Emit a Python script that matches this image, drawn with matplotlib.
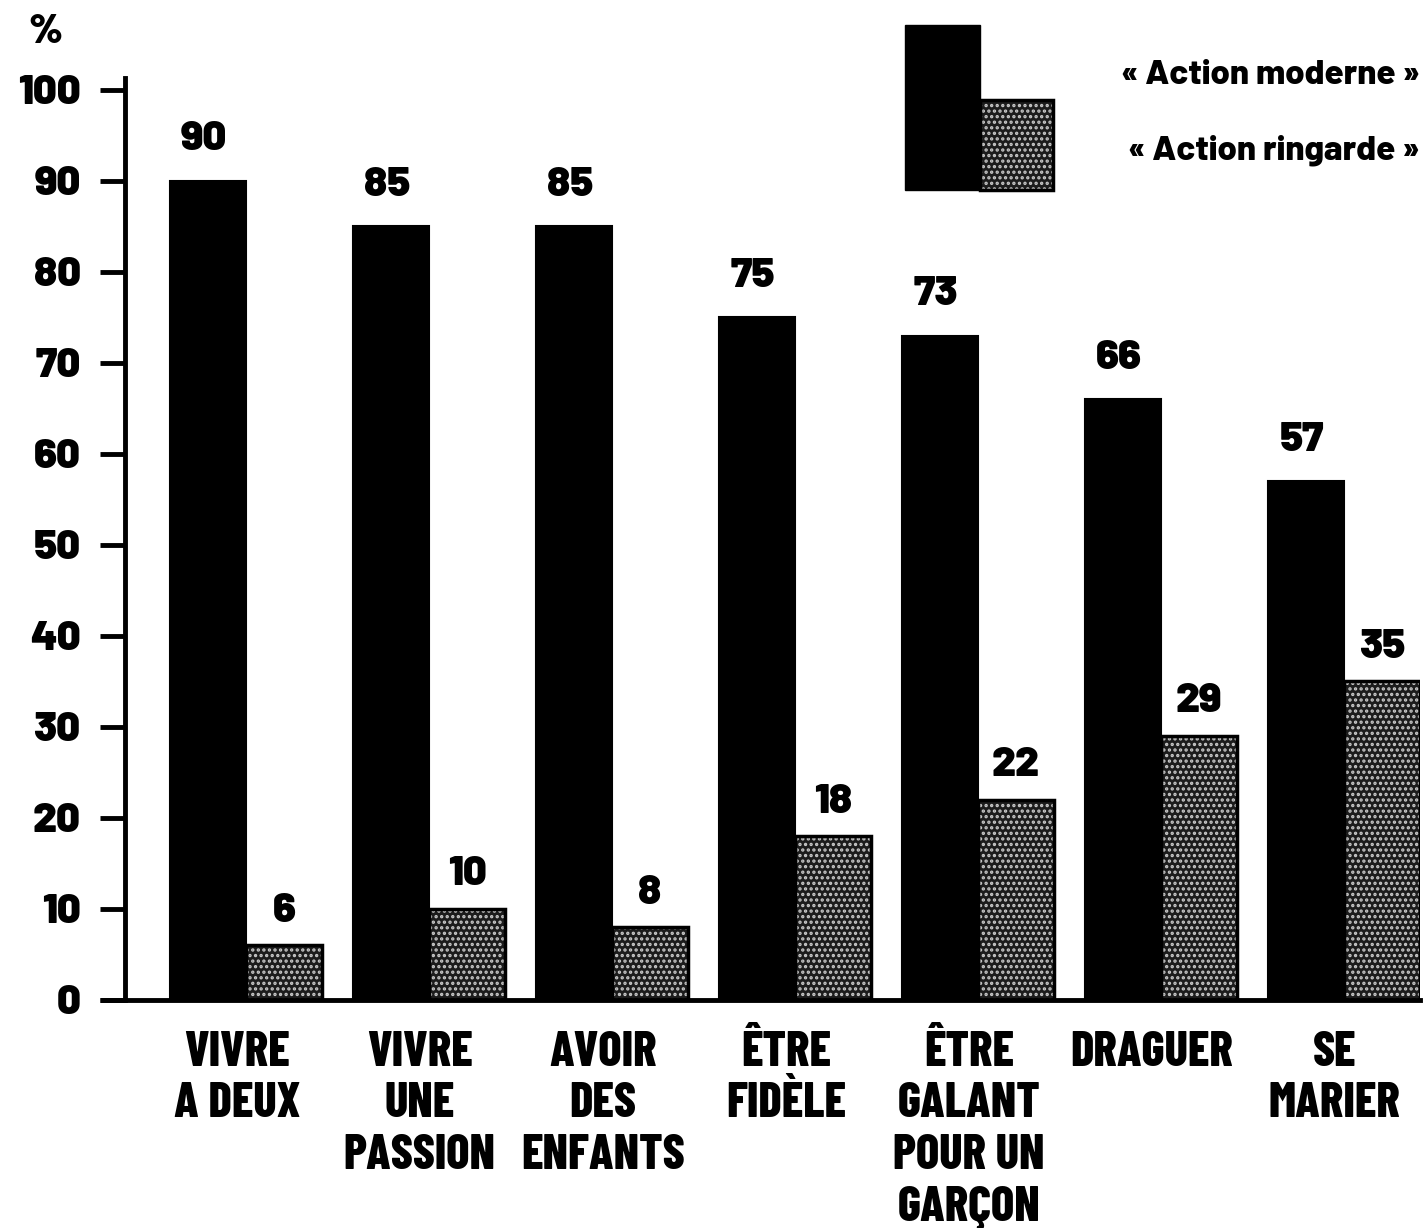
import matplotlib
matplotlib.use("Agg")
import matplotlib.pyplot as plt
from matplotlib.patches import Rectangle
import numpy as np

categories = ["VIVRE\nA DEUX", "VIVRE\nUNE\nPASSION", "AVOIR\nDES\nENFANTS",
              "ÊTRE\nFIDÈLE", "ÊTRE\nGALANT\nPOUR UN\nGARÇON", "DRAGUER", "SE\nMARIER"]
moderne = [90, 85, 85, 75, 73, 66, 57]
ringarde = [6, 10, 8, 18, 22, 29, 35]
yticks = [0, 10, 20, 30, 40, 50, 60, 70, 80, 90, 100]
series_names = ["« Action moderne »", "« Action ringarde »"]

CAT_FONT = ['Barlow Condensed', 'DejaVu Sans']
NUM_FONT = ['Barlow', 'Barlow Semi Condensed', 'DejaVu Sans']
plt.rcParams['font.family'] = CAT_FONT
plt.rcParams['hatch.linewidth'] = 1.6

W, H = 1427, 1228
fig = plt.figure(figsize=(W / 100, H / 100), dpi=100)
ax = fig.add_axes([125 / W, 1 - 1000 / H, (1420 - 125) / W, (1000 - 78) / H])

x = np.arange(len(categories))
bw = 0.415
off = 0.2077

ax.bar(x - off, moderne, width=bw, color='black', edgecolor='black', linewidth=1.5, zorder=2)
# halftone grey bars: dark base with light dots, black outline
ax.bar(x + off, ringarde, width=bw, color='#1c1c1c', edgecolor='#c8c8c8', hatch='...',
       linewidth=0, zorder=2)
ax.bar(x + off, ringarde, width=bw, fill=False, edgecolor='black', linewidth=2.5, zorder=3)

for xi, v in zip(x - off, moderne):
    ax.annotate(str(v), (xi, v), xytext=(-3, 17), textcoords='offset points',
                ha='center', va='bottom', fontsize=30, fontweight=900, family=NUM_FONT)
for xi, v in zip(x + off, ringarde):
    ax.annotate(str(v), (xi, v), xytext=(0, 12), textcoords='offset points',
                ha='center', va='bottom', fontsize=30, fontweight=900, family=NUM_FONT)

ax.set_xlim(-0.661, 6.415)
ax.set_ylim(0, 101.3)
ax.set_yticks(yticks)
ax.set_yticklabels([str(t) for t in yticks], fontsize=30, fontweight=900, family=NUM_FONT)
ax.tick_params(axis='y', length=18, width=3.5, pad=14, direction='out')
ax.set_xticks(x - 0.05)
ax.set_xticklabels(categories, fontsize=35, fontweight=800, family=CAT_FONT, linespacing=1.22)
ax.tick_params(axis='x', length=0, pad=22)

for s in ['top', 'right']:
    ax.spines[s].set_visible(False)
for s in ['left', 'bottom']:
    ax.spines[s].set_linewidth(3.5)

# extend baseline left to the tick end
ax.plot([-0.661 - 25 / 183, -0.661], [0, 0], color='black', lw=3.5, clip_on=False,
        solid_capstyle='butt')

# "%" unit label
fig.text(45 / W, 1 - 32 / H, "%", fontsize=30, fontweight=900, ha='center', va='center',
         family=NUM_FONT)

# legend
fig.patches.append(Rectangle((905 / W, 1 - 190 / H), 75 / W, 165 / H, transform=fig.transFigure,
                             facecolor='black', edgecolor='black', figure=fig))
fig.patches.append(Rectangle((980 / W, 1 - 190 / H), 73 / W, 90 / H, transform=fig.transFigure,
                             facecolor='#1c1c1c', edgecolor='#c8c8c8', hatch='...', linewidth=0,
                             figure=fig))
fig.patches.append(Rectangle((980 / W, 1 - 190 / H), 73 / W, 90 / H, transform=fig.transFigure,
                             fill=False, edgecolor='black', linewidth=2.5, figure=fig))
fig.text(1420 / W, 1 - 75 / H, series_names[0], fontsize=25, fontweight=800,
         ha='right', va='center', family=NUM_FONT)
fig.text(1420 / W, 1 - 150 / H, series_names[1], fontsize=25, fontweight=800,
         ha='right', va='center', family=NUM_FONT)

fig.savefig("out.png", dpi=100)
